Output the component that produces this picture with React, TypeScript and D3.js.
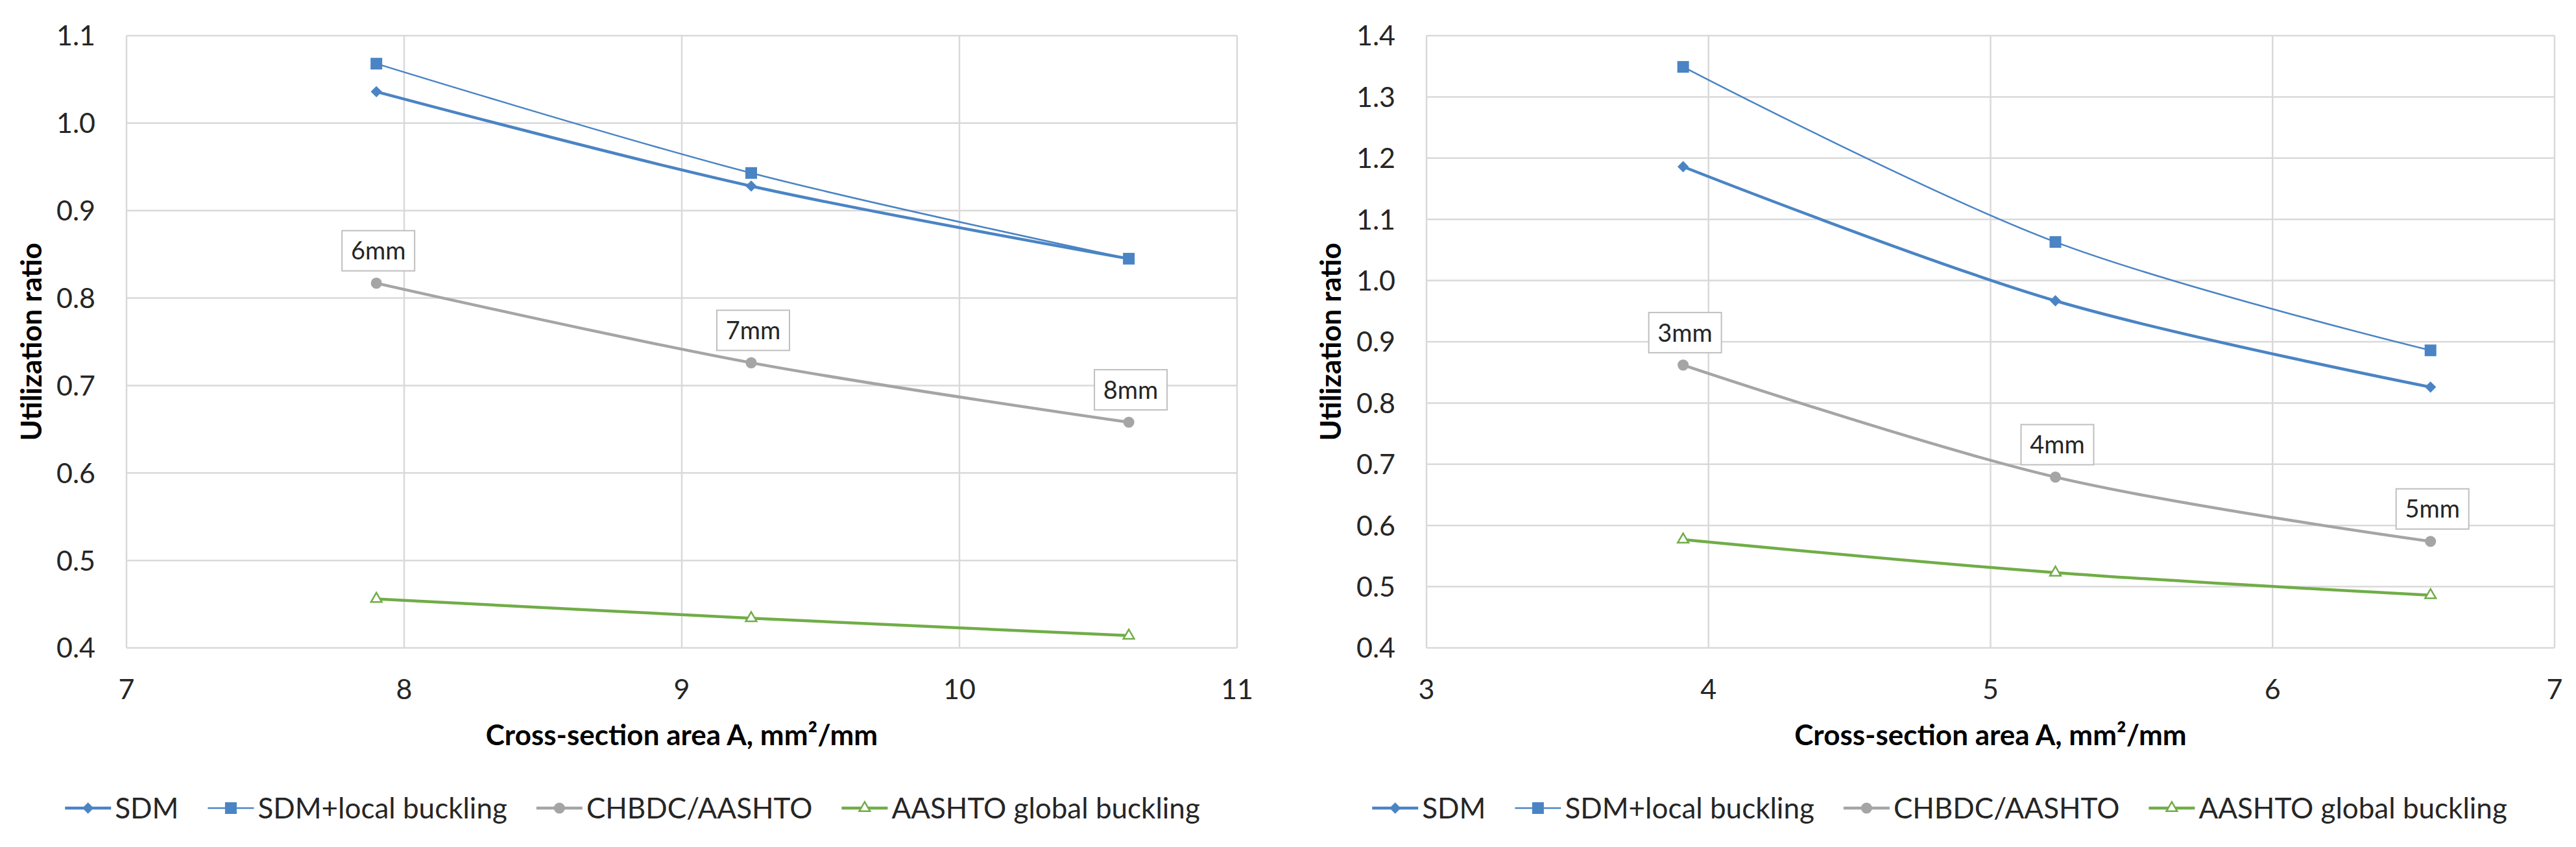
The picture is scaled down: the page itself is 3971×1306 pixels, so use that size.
import { useEffect, useRef } from 'react';
import * as d3 from 'd3';

// left panel (6/7/8 mm)
const xLeft = [7.9, 9.25, 10.61];
const sdmLeft = [1.036, 0.928, 0.845];
const sdmLocalLeft = [1.068, 0.943, 0.845];
const chbdcLeft = [0.817, 0.726, 0.658];
const aashtoLeft = [0.456, 0.434, 0.414];
const thickLeft = ['6mm', '7mm', '8mm'];

// right panel (3/4/5 mm)
const xRight = [3.91, 5.23, 6.56];
const sdmRight = [1.186, 0.967, 0.826];
const sdmLocalRight = [1.349, 1.063, 0.886];
const chbdcRight = [0.862, 0.679, 0.574];
const aashtoRight = [0.577, 0.523, 0.486];
const thickRight = ['3mm', '4mm', '5mm'];

const seriesNames = ['SDM', 'SDM+local buckling', 'CHBDC/AASHTO', 'AASHTO global buckling'];
const xTicksLeft = [7, 8, 9, 10, 11];
const xTicksRight = [3, 4, 5, 6, 7];
const yTicksLeft = [0.4, 0.5, 0.6, 0.7, 0.8, 0.9, 1.0, 1.1];
const yTicksRight = [0.4, 0.5, 0.6, 0.7, 0.8, 0.9, 1.0, 1.1, 1.2, 1.3, 1.4];

const W = 3971;
const H = 1306;
const FONT = 'Lato, "Open Sans", sans-serif';
const BLUE = '#4a84c4';
const GRAY = '#a5a5a5';
const GREEN = '#70ad47';
const GRID = '#d9d9d9';

type Style = { color: string; width: number; marker: string };
const styles: Style[] = [
  { color: BLUE, width: 4.5, marker: 'diamond' },
  { color: BLUE, width: 2.5, marker: 'square' },
  { color: GRAY, width: 4.5, marker: 'circle' },
  { color: GREEN, width: 4.5, marker: 'triangle' },
];

interface PanelCfg {
  left: number;
  right: number;
  titleX: number;
  legendCenter: number;
  xDomain: [number, number];
  yDomain: [number, number];
  xTicks: number[];
  yTicks: number[];
  xs: number[];
  series: number[][];
  labels: string[];
}

const TOP = 55;
const BOTTOM = 999;

function drawMarker(g: d3.Selection<SVGGElement, unknown, null, undefined>, type: string, x: number, y: number, color: string) {
  if (type === 'diamond') {
    g.append('path')
      .attr('d', d3.symbol().type(d3.symbolSquare).size(150)())
      .attr('transform', `translate(${x},${y}) rotate(45)`)
      .attr('fill', color);
  } else if (type === 'square') {
    g.append('path')
      .attr('d', d3.symbol().type(d3.symbolSquare).size(324)())
      .attr('transform', `translate(${x},${y})`)
      .attr('fill', color);
  } else if (type === 'circle') {
    g.append('path')
      .attr('d', d3.symbol().type(d3.symbolCircle).size(230)())
      .attr('transform', `translate(${x},${y})`)
      .attr('fill', color);
  } else {
    g.append('path')
      .attr('d', d3.symbol().type(d3.symbolTriangle).size(120)())
      .attr('transform', `translate(${x},${y})`)
      .attr('fill', '#fff')
      .attr('stroke', color)
      .attr('stroke-width', 2.5);
  }
}

function drawPanel(root: d3.Selection<SVGSVGElement, unknown, null, undefined>, cfg: PanelCfg) {
  const g = root.append('g');
  const x = d3.scaleLinear().domain(cfg.xDomain).range([cfg.left, cfg.right]);
  const y = d3.scaleLinear().domain(cfg.yDomain).range([BOTTOM, TOP]);

  // grid
  g.selectAll('.hg')
    .data(cfg.yTicks)
    .enter()
    .append('line')
    .attr('x1', cfg.left)
    .attr('x2', cfg.right)
    .attr('y1', (d) => y(d))
    .attr('y2', (d) => y(d))
    .attr('stroke', GRID)
    .attr('stroke-width', 2.5);
  g.selectAll('.vg')
    .data(cfg.xTicks)
    .enter()
    .append('line')
    .attr('x1', (d) => x(d))
    .attr('x2', (d) => x(d))
    .attr('y1', TOP)
    .attr('y2', BOTTOM)
    .attr('stroke', GRID)
    .attr('stroke-width', 2.5);

  // tick labels
  const fmt = d3.format('.1f');
  g.selectAll('.yl')
    .data(cfg.yTicks)
    .enter()
    .append('text')
    .attr('x', cfg.left - 48)
    .attr('y', (d) => y(d))
    .attr('dy', '0.36em')
    .attr('text-anchor', 'end')
    .style('font-family', FONT)
    .style('font-size', '43px')
    .style('fill', '#262626')
    .text((d) => fmt(d));
  g.selectAll('.xl')
    .data(cfg.xTicks)
    .enter()
    .append('text')
    .attr('x', (d) => x(d))
    .attr('y', 1063)
    .attr('dy', '0.36em')
    .attr('text-anchor', 'middle')
    .style('font-family', FONT)
    .style('font-size', '43px')
    .style('fill', '#262626')
    .text((d) => String(d));

  // axis titles
  g.append('text')
    .attr('x', (cfg.left + cfg.right) / 2)
    .attr('y', 1133)
    .attr('dy', '0.36em')
    .attr('text-anchor', 'middle')
    .style('font-family', FONT)
    .style('font-size', '44px')
    .style('font-weight', 'bold')
    .style('fill', '#000')
    .text('Cross-section area A, mm²/mm');
  g.append('text')
    .attr('transform', `translate(${cfg.titleX},${(TOP + BOTTOM) / 2}) rotate(-90)`)
    .attr('dy', '0.36em')
    .attr('text-anchor', 'middle')
    .style('font-family', FONT)
    .style('font-size', '44px')
    .style('font-weight', 'bold')
    .style('fill', '#000')
    .text('Utilization ratio');

  // series
  const line = d3
    .line<[number, number]>()
    .x((d) => x(d[0]))
    .y((d) => y(d[1]))
    .curve(d3.curveCatmullRom.alpha(0.5));

  cfg.series.forEach((vals, i) => {
    const st = styles[i];
    const pts = vals.map((v, j) => [cfg.xs[j], v] as [number, number]);
    g.append('path')
      .attr('d', line(pts) || '')
      .attr('fill', 'none')
      .attr('stroke', st.color)
      .attr('stroke-width', st.width)
      .attr('stroke-linejoin', 'round');
    pts.forEach((p) => drawMarker(g, st.marker, x(p[0]), y(p[1]), st.color));
  });

  // thickness labels on CHBDC/AASHTO series
  cfg.labels.forEach((lab, j) => {
    const cx = x(cfg.xs[j]) + 3;
    const cy = y(cfg.series[2][j]) - 50;
    g.append('rect')
      .attr('x', cx - 56)
      .attr('y', cy - 31)
      .attr('width', 112)
      .attr('height', 62)
      .attr('fill', '#fff')
      .attr('stroke', '#bfbfbf')
      .attr('stroke-width', 2);
    g.append('text')
      .attr('x', cx)
      .attr('y', cy)
      .attr('dy', '0.36em')
      .attr('text-anchor', 'middle')
      .style('font-family', FONT)
      .style('font-size', '38px')
      .style('fill', '#262626')
      .text(lab);
  });

  // legend
  const lg = g.append('g');
  const items: { g: d3.Selection<SVGGElement, unknown, null, undefined>; w: number }[] = [];
  const LINE = 71;
  seriesNames.forEach((name, i) => {
    const st = styles[i];
    const ig = lg.append('g');
    ig.append('line')
      .attr('x1', 0)
      .attr('x2', LINE)
      .attr('y1', 0)
      .attr('y2', 0)
      .attr('stroke', st.color)
      .attr('stroke-width', st.width);
    drawMarker(ig, st.marker, LINE / 2, 0, st.color);
    const t = ig
      .append('text')
      .attr('x', LINE + 6)
      .attr('y', 0)
      .attr('dy', '0.36em')
      .style('font-family', FONT)
      .style('font-size', '44px')
      .style('fill', '#262626')
      .text(name);
    const tw = (t.node() as SVGTextElement).getComputedTextLength();
    items.push({ g: ig, w: LINE + 6 + tw });
  });
  const GAP = 45;
  const total = d3.sum(items, (d) => d.w) + GAP * (items.length - 1);
  let cur = cfg.legendCenter - total / 2;
  items.forEach((it) => {
    it.g.attr('transform', `translate(${cur},1246)`);
    cur += it.w + GAP;
  });
}

export default function App() {
  const svgRef = useRef<SVGSVGElement>(null);

  useEffect(() => {
    if (!svgRef.current) return;
    const svg = d3.select(svgRef.current);
    svg.selectAll('*').remove();
    svg.append('rect').attr('width', W).attr('height', H).attr('fill', '#fff');

    drawPanel(svg, {
      left: 195,
      right: 1907,
      titleX: 48,
      legendCenter: 975,
      xDomain: [7, 11],
      yDomain: [0.4, 1.1],
      xTicks: xTicksLeft,
      yTicks: yTicksLeft,
      xs: xLeft,
      series: [sdmLeft, sdmLocalLeft, chbdcLeft, aashtoLeft],
      labels: thickLeft,
    });

    drawPanel(svg, {
      left: 2199,
      right: 3938,
      titleX: 2051,
      legendCenter: 2990,
      xDomain: [3, 7],
      yDomain: [0.4, 1.4],
      xTicks: xTicksRight,
      yTicks: yTicksRight,
      xs: xRight,
      series: [sdmRight, sdmLocalRight, chbdcRight, aashtoRight],
      labels: thickRight,
    });
  }, []);

  return (
    <div>
      <style>{'body{margin:0}'}</style>
      <svg ref={svgRef} width={W} height={H} style={{ display: 'block' }} />
    </div>
  );
}
